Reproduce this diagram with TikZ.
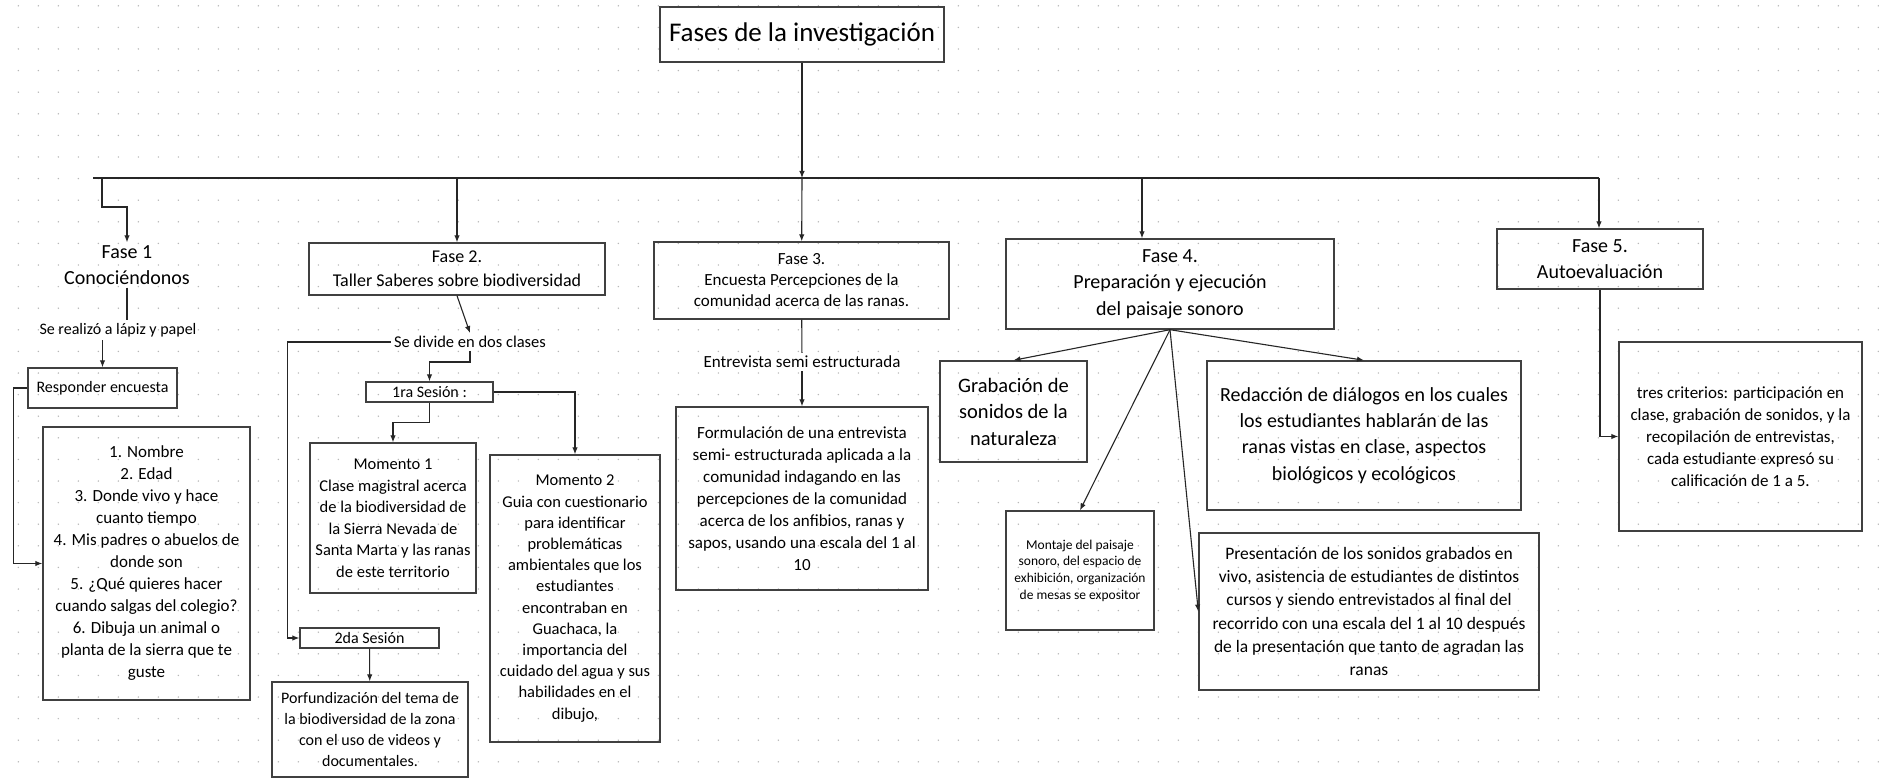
\documentclass[tikz,border=0pt]{standalone}
\usepackage{fontspec}
\setmainfont{Carlito}
\usetikzlibrary{arrows.meta}
\newcommand{\letra}[2]{\fontsize{#1}{#2}\selectfont}

\begin{document}
\begin{tikzpicture}[x=1pt,y=-1pt,
  >={Latex[length=7pt,width=5.5pt]},
  caja/.style={draw=black!75,line width=1.4pt,rectangle,inner sep=0pt,align=center},
  texto/.style={inner sep=3pt,align=center},
  linea/.style={line width=1.1pt,black!85}]

\useasboundingbox (0,0) rectangle (1879,778);

\fill [white] (0,0) rectangle (1879,778);

\foreach \i in {0,...,93}
  \foreach \j in {0,...,35}
    \fill [black!28] (18.3+20*\i,5.8+21.6*\j) circle (0.8);

\node [caja,minimum width=284,minimum height=55,font=\letra{27}{32}] at (802,34.5) (fases) {Fases de la investigación};

\node [texto,font=\letra{20}{26}] at (127,265) (f1) {Fase 1\\Conociéndonos};

\node [texto,font=\letra{16}{20}] at (118,330) (lapiz) {Se realizó a lápiz y papel};

\node [caja,minimum width=149,minimum height=40,font=\letra{16}{20}] at (102.5,388) (resp) {Responder encuesta};

\node [caja,minimum width=207,minimum height=273,font=\letra{17}{22}] at (146.5,563.5) (lista) {1. Nombre\\2. Edad\\3. Donde vivo y hace\\cuanto tiempo\\4. Mis padres o abuelos de\\donde son\\5. ¿Qué quieres hacer\\cuando salgas del colegio?\\6. Dibuja un animal o\\planta de la sierra que te\\guste};

\node [caja,minimum width=296,minimum height=52,font=\letra{18}{24}] at (457,269) (f2) {Fase 2.\\Taller Saberes sobre biodiversidad};

\node [texto,font=\letra{16.5}{20}] at (470,342) (clases) {Se divide en dos clases};

\node [caja,minimum width=127,minimum height=20,font=\letra{16}{18}] at (429.5,392) (ses1) {1ra Sesión :};

\node [caja,minimum width=166,minimum height=150,font=\letra{16.5}{21.5}] at (393,518) (mom1) {Momento 1\\Clase magistral acerca\\de la biodiversidad de\\la Sierra Nevada de\\Santa Marta y las ranas\\de este territorio};

\node [caja,minimum width=170,minimum height=287,font=\letra{16.5}{21.2}] at (575,598.5) (mom2) {Momento 2\\Guia con cuestionario\\para identificar\\problemáticas\\ambientales que los\\estudiantes\\encontraban en\\Guachaca, la\\importancia del\\cuidado del agua y sus\\habilidades en el\\dibujo,};

\node [caja,minimum width=139,minimum height=20,font=\letra{16}{18}] at (369.5,638) (ses2) {2da Sesión};

\node [caja,minimum width=196,minimum height=95,font=\letra{16}{21}] at (370,729.5) (prof) {Porfundización del tema de\\la biodiversidad de la zona\\con el uso de videos y\\documentales.};

\node [caja,minimum width=295,minimum height=77,font=\letra{17}{21}] at (801.5,280.5) (f3) {Fase 3.\\Encuesta Percepciones de la\\comunidad acerca de las ranas.};

\node [texto,font=\letra{17}{20}] at (802,362) (semi) {Entrevista semi estructurada};

\node [caja,minimum width=252,minimum height=183,font=\letra{17}{22}] at (802,498.5) (form) {Formulación de una entrevista\\semi- estructurada aplicada a la\\comunidad indagando en las\\percepciones de la comunidad\\acerca de los anfibios, ranas y\\sapos, usando una escala del 1 al\\10};

\node [caja,minimum width=328,minimum height=90,font=\letra{20}{26.5}] at (1170,284) (f4) {Fase 4.\\Preparación y ejecución\\del paisaje sonoro};

\node [caja,minimum width=147,minimum height=101,font=\letra{20.5}{26.5}] at (1013.5,411.5) (grab) {Grabación de\\sonidos de la\\naturaleza};

\node [caja,minimum width=314,minimum height=149,font=\letra{20}{26.3}] at (1364,435.5) (redac) {Redacción de diálogos en los cuales\\los estudiantes hablarán de las\\ranas vistas en clase, aspectos\\biológicos y ecológicos};

\node [caja,minimum width=148,minimum height=119,font=\letra{13.5}{16.7}] at (1080,570.5) (mont) {Montaje del paisaje\\sonoro, del espacio de\\exhibición, organización\\de mesas se expositor};

\node [caja,minimum width=340,minimum height=157,font=\letra{17.5}{23.3}] at (1369,611.5) (pres) {Presentación de los sonidos grabados en\\vivo, asistencia de estudiantes de distintos\\cursos y siendo entrevistados al final del\\recorrido con una escala del 1 al 10 después\\de la presentación que tanto de agradan las\\ranas};

\node [caja,minimum width=206,minimum height=60,font=\letra{20}{26}] at (1600,259) (f5) {Fase 5.\\Autoevaluación};

\node [caja,minimum width=243,minimum height=189,font=\letra{17}{22}] at (1740.5,436.5) (crit) {tres criterios: participación en\\clase, grabación de sonidos, y la\\recopilación de entrevistas,\\cada estudiante expresó su\\calificación de 1 a 5.};

\coordinate (busL) at (93,178);
\coordinate (busR) at (1599,178);
\coordinate (t1) at (102,178);
\coordinate (t4) at (1142,178);

\draw [linea] (busL) -- (busR);

\draw [linea,->] (fases) -- (fases.south |- busL);

\draw [linea,->] (fases.south |- busL) -- (f3);

\draw [linea,->] (t1) -- ++(0,29) -| (f1.north);

\draw [linea,->] (f2.north |- busL) -- (f2);

\draw [linea,->] (t4) -- (t4 |- f4.north);

\draw [linea,->] (busR) -- (busR |- f5.north);

\draw [linea] (f1) -- (f1.south |- lapiz.north);

\draw [linea,->] (lapiz.south -| resp.north) -- (resp.north);

\draw [linea,->] (resp.west) -- ++(-14,0) |- (lista.west);

\draw [linea,->] (f2.south) -- (clases.north);

\draw [linea,->] (clases.west) -- ++(-103,0) |- (ses2.west);

\draw [linea,->] (clases.south) -- ++(0,11) -| (ses1.north);

\draw [linea,->] (ses1.south) -- ++(0,20) -| (mom1.north);

\draw [linea,->] (ses1.east) -| (mom2.north);

\draw [linea,->] (ses2) -- (prof);

\draw [linea] (f3) -- (semi);

\draw [linea,->] (semi) -- (form);

\draw [linea,->] (f4.south) -- (grab.north);

\draw [linea,->] (f4.south) -- (mont.north);

\draw [linea,->] (f4.south) -- (redac.north);

\draw [linea,->] (f4.south) -- (pres.west);

\draw [linea,->] (f5.south) |- (crit.west);
\end{tikzpicture}
\end{document}
